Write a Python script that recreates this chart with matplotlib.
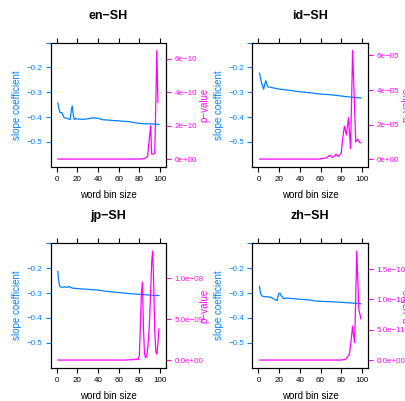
import matplotlib
matplotlib.use('Agg')
import matplotlib.pyplot as plt
import numpy as np

plt.rcParams['font.family'] = ['Liberation Sans', 'DejaVu Sans']

BLUE = '#0080ff'
MAGENTA = '#ff00ff'

# ---- en-SH ----
en_x_slope = [1, 2, 3, 5, 7, 10, 13, 14, 15, 16, 17, 19, 20, 25, 30, 35, 40, 45, 50, 55, 60, 65, 70, 75, 80, 85, 90, 95, 99]
en_slope = [-0.343, -0.365, -0.381, -0.382, -0.402, -0.405, -0.41, -0.375, -0.355, -0.39, -0.41, -0.405, -0.408,
            -0.409, -0.407, -0.403, -0.405, -0.411, -0.412, -0.414, -0.415, -0.417, -0.418, -0.422, -0.425,
            -0.427, -0.427, -0.428, -0.43]
en_x_p = [1, 80, 85, 88, 89, 91, 92, 94, 95, 97, 98]
en_p = [0, 0, 0.03e-10, 0.15e-10, 0.8e-10, 2.0e-10, 0.3e-10, 0.3e-10, 0.4e-10, 6.5e-10, 3.4e-10]
en_pticks = [0, 2e-10, 4e-10, 6e-10]
en_plabels = ['0e+00', '2e\u221210', '4e\u221210', '6e\u221210']

# ---- id-SH ----
id_x_slope = [1, 3, 5, 7, 9, 11, 15, 20, 30, 40, 50, 60, 70, 80, 90, 99]
id_slope = [-0.223, -0.262, -0.288, -0.253, -0.278, -0.279, -0.283, -0.287, -0.292, -0.298, -0.302,
            -0.307, -0.31, -0.315, -0.32, -0.323]
id_x_p = [1, 58, 62, 66, 69, 71, 73, 75, 77, 79, 80, 81, 83, 85, 87, 89, 91, 94, 96, 98, 99]
id_p = [0, 0, 0.03e-5, 0.08e-5, 0.23e-5, 0.1e-5, 0.15e-5, 0.28e-5, 0.15e-5, 0.28e-5, 0.3e-5, 1.0e-5,
        1.9e-5, 1.4e-5, 2.4e-5, 0.6e-5, 6.3e-5, 1.0e-5, 1.15e-5, 0.95e-5, 0.95e-5]
id_pticks = [0, 2e-5, 4e-5, 6e-5]
id_plabels = ['0e+00', '2e\u221205', '4e\u221205', '6e\u221205']

# ---- jp-SH ----
jp_x_slope = [1, 2, 3, 5, 8, 10, 12, 15, 20, 30, 40, 50, 60, 70, 80, 90, 99]
jp_slope = [-0.213, -0.255, -0.274, -0.277, -0.275, -0.277, -0.274, -0.28, -0.282, -0.285, -0.288,
            -0.294, -0.298, -0.302, -0.305, -0.308, -0.31]
jp_x_p = [1, 66, 70, 75, 77, 78, 79, 80, 81, 82, 83, 84, 85, 86, 87, 88, 89, 90, 91, 92, 93, 94, 95, 96, 97, 98, 99]
jp_p = [0, 0, 0.03e-9, 0.05e-9, 0.15e-9, 0.05e-9, 0.1e-9, 0.5e-9, 4.0e-9, 8.0e-9, 9.5e-9, 4.0e-9, 0.8e-9,
        0.3e-9, 0.4e-9, 1.2e-9, 2.8e-9, 5.0e-9, 8.5e-9, 12.0e-9, 13.3e-9, 9.0e-9, 3.5e-9, 1.0e-9, 0.7e-9,
        2.0e-9, 3.8e-9]
jp_pticks = [0, 5e-9, 1e-8]
jp_plabels = ['0.0e+00', '5.0e\u221209', '1.0e\u221208']

# ---- zh-SH ----
zh_x_slope = [1, 2, 4, 7, 10, 13, 16, 18, 19, 20, 21, 22, 24, 27, 30, 40, 50, 55, 60, 70, 80, 90, 99]
zh_slope = [-0.272, -0.303, -0.313, -0.315, -0.315, -0.319, -0.327, -0.33, -0.31, -0.3, -0.302, -0.31,
            -0.322, -0.32, -0.321, -0.325, -0.328, -0.332, -0.333, -0.335, -0.337, -0.34, -0.343]
zh_x_p = [1, 80, 84, 86, 88, 89, 90, 91, 92, 93, 95, 97, 99]
zh_p = [0, 0, 0.1e-11, 0.5e-11, 1.1e-11, 2.4e-11, 4.0e-11, 5.6e-11, 4.0e-11, 2.9e-11, 18.0e-11, 8.4e-11, 6.8e-11]
zh_pticks = [0, 5e-11, 1e-10, 1.5e-10]
zh_plabels = ['0.0e+00', '5.0e\u221211', '1.0e\u221210', '1.5e\u221210']

slope_ticks = [-0.5, -0.4, -0.3, -0.2, -0.1]
slope_labels = ['\u22120.5', '\u22120.4', '\u22120.3', '\u22120.2', '']
x_ticks = [0, 20, 40, 60, 80, 100]

panels = [
    ('en\u2212SH', en_x_slope, en_slope, en_x_p, en_p, en_pticks, en_plabels, (50.7, 42.7, 166.0, 166.7)),
    ('id\u2212SH', id_x_slope, id_slope, id_x_p, id_p, id_pticks, id_plabels, (252.4, 42.7, 368.0, 166.7)),
    ('jp\u2212SH', jp_x_slope, jp_slope, jp_x_p, jp_p, jp_pticks, jp_plabels, (50.7, 243.3, 166.0, 367.7)),
    ('zh\u2212SH', zh_x_slope, zh_slope, zh_x_p, zh_p, zh_pticks, zh_plabels, (252.4, 243.3, 368.0, 367.7)),
]

W, H = 406, 401
fig = plt.figure(figsize=(W / 100, H / 100), dpi=100)

for title, xs, ys, xp, yp, pt, pl, (x0, y0, x1, y1) in panels:
    ax = fig.add_axes([x0 / W, 1 - y1 / H, (x1 - x0) / W, (y1 - y0) / H])
    ax.plot(xs, ys, color=BLUE, lw=0.9)
    xmin, xmax = min(xs), max(xs)
    pad = 0.07 * (xmax - xmin)
    ax.set_xlim(xmin - pad, xmax + pad)
    ax.set_ylim(-0.6, -0.1)
    ax.set_xticks(x_ticks)
    ax.set_yticks(slope_ticks)
    ax.set_yticklabels(slope_labels)
    ax.tick_params(axis='x', direction='out', length=3.5, width=0.8, labelsize=5.8, pad=3,
                   top=True, labeltop=False, colors='black')
    ax.tick_params(axis='y', direction='out', length=3.5, width=0.8, labelsize=5.8, pad=2.5,
                   colors=BLUE)
    for s in ax.spines.values():
        s.set_linewidth(0.8)
    ax.set_xlabel('word bin size', fontsize=7, labelpad=5)
    ax.set_ylabel('slope coefficient', fontsize=7, color=BLUE)
    ax.yaxis.set_label_coords(-0.245, 0.5)

    ax2 = ax.twinx()
    ax2.plot(xp, yp, color=MAGENTA, lw=0.9)
    pmin, pmax = min(yp), max(yp)
    ppad = 0.07 * (pmax - pmin)
    ax2.set_ylim(pmin - ppad, pmax + ppad)
    ax2.set_yticks(pt)
    ax2.set_yticklabels(pl)
    ax2.tick_params(axis='y', direction='out', length=3.5, width=0.8, labelsize=5.8, pad=2.5,
                    colors=MAGENTA)
    for s in ax2.spines.values():
        s.set_linewidth(0.8)
    ax2.set_ylabel('p\u2212value', fontsize=7, color=MAGENTA)
    ax2.yaxis.set_label_coords(1.29, 0.5)

    fig.text((x0 + x1) / 2 / W, 1 - (y0 - 27) / H, title, ha='center', va='center',
             fontsize=9, fontweight='bold')

fig.savefig('out.png', dpi=100)
